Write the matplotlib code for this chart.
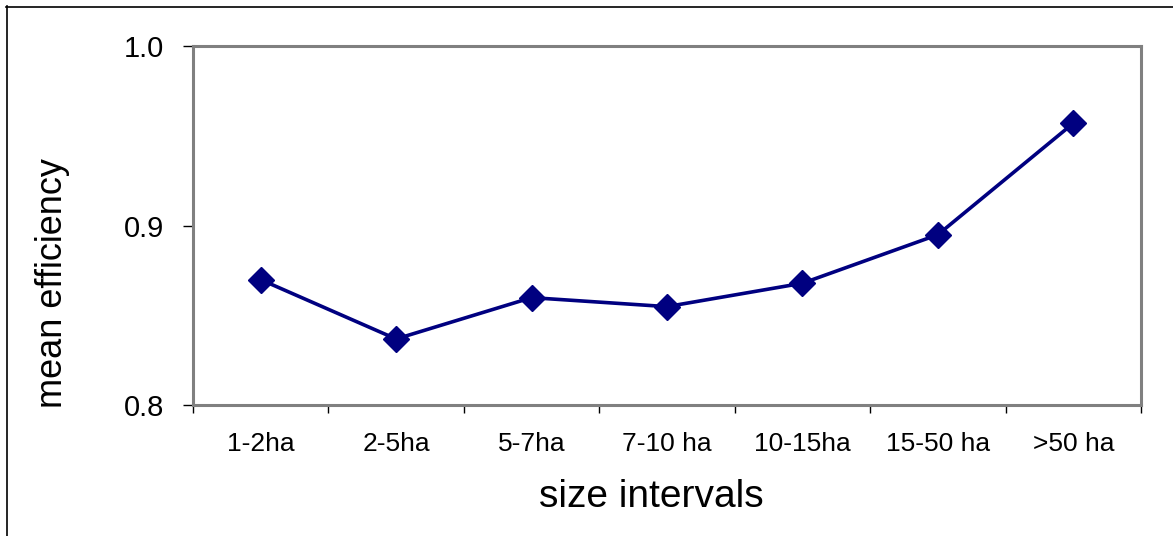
import matplotlib
matplotlib.use("Agg")
import matplotlib.pyplot as plt
from matplotlib.lines import Line2D

# データ
categories = ["1-2ha", "2-5ha", "5-7ha", "7-10 ha", "10-15ha", "15-50 ha", ">50 ha"]
efficiency = [0.870, 0.837, 0.860, 0.855, 0.868, 0.895, 0.957]
y_ticks = [0.8, 0.9, 1.0]
y_ticklabels = ["0.8", "0.9", "1.0"]

plt.rcParams['font.family'] = ['Liberation Sans', 'DejaVu Sans']

fig = plt.figure(figsize=(11.73, 5.36), dpi=100)
ax = fig.add_axes([0.1645, 0.2435, 0.8082, 0.6707])

x = list(range(len(categories)))
ax.plot(x, efficiency, color="#000080", linewidth=2.6,
        marker="D", markersize=13.5, markerfacecolor="#000080",
        markeredgecolor="#000080", markeredgewidth=1, zorder=3)

# 軸の範囲
ax.set_xlim(-0.5, len(categories) - 0.5)
ax.set_ylim(0.8, 1.0)

# 枠線
for side in ["left", "right", "top", "bottom"]:
    ax.spines[side].set_color("#808080")
    ax.spines[side].set_linewidth(2.2)

# Y軸
ax.set_yticks(y_ticks)
ax.set_yticklabels(y_ticklabels, fontsize=21)
ax.tick_params(axis="y", direction="out", length=7, width=1, color="black", pad=14)

# X軸: ラベルは中央、目盛りは境界
ax.set_xticks(x)
ax.set_xticklabels(categories, fontsize=19)
ax.set_xticks([i - 0.5 for i in range(len(categories) + 1)], minor=True)
ax.tick_params(axis="x", which="major", length=0, pad=19)
ax.tick_params(axis="x", which="minor", direction="out", length=6, width=1, color="black")

# 軸ラベル
fig.text(0.555, 0.072, "size intervals", fontsize=28, ha="center", va="center")
fig.text(0.045, 0.472, "mean efficiency", fontsize=26, ha="center", va="center",
         rotation=90)

# 外枠 (上と左のみ見える)
fig.add_artist(Line2D([6 / 1173, 1.0], [1 - 6.5 / 536, 1 - 6.5 / 536],
                      transform=fig.transFigure, color="black", linewidth=1.2))
fig.add_artist(Line2D([6.5 / 1173, 6.5 / 1173], [0.0, 1 - 6 / 536],
                      transform=fig.transFigure, color="black", linewidth=1.2))

fig.savefig("out.png", dpi=100)
